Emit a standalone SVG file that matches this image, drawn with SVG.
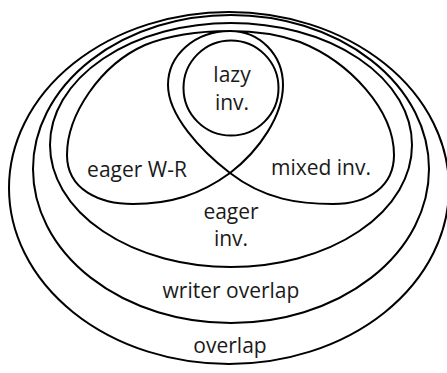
<svg xmlns="http://www.w3.org/2000/svg" width="447" height="373" viewBox="0 0 447 373">
  <style>
    .ring { fill: none; stroke: #000; stroke-width: 2; }
    .lbl { font-family: "Open Sans", "Liberation Sans", Arial, sans-serif; font-size: 21px; fill: #1a1a1a; text-anchor: middle; }
  </style>
  <rect width="447" height="373" fill="#fff"/>

  <g id="overlap">
    <ellipse class="ring" cx="229" cy="188" rx="220" ry="176"/>
    <text class="lbl" x="230" y="353">overlap</text>
  </g>

  <g id="writer-overlap">
    <ellipse class="ring" cx="231" cy="169" rx="198" ry="154"/>
    <text class="lbl" x="231" y="298">writer overlap</text>
  </g>

  <g id="eager-inv">
    <ellipse class="ring" cx="231" cy="145" rx="181" ry="122"/>
    <text class="lbl" x="231" y="219">eager</text>
    <text class="lbl" x="231" y="246">inv.</text>
  </g>

  <!-- single self-crossing curve: two side lobes plus the inner teardrop -->
  <g id="lobes">
    <path class="ring" d="M 230,173
      C 265,200 300,204 333,204
      C 370,204 394,185 394,155
      C 394,110 350,62 300,42
      C 275,33 250,31 230,31
      C 200,31 170,35 145,45
      C 100,65 67,115 67,155
      C 67,190 100,204 133,204
      C 170,204 200,195 230,173
      C 260,150 283,115 283,85
      C 283,55 260,31 230,31
      C 195,31 168,55 168,85
      C 168,115 200,150 230,173 Z"/>
  </g>

  <g id="eager-w-r">
    <text class="lbl" x="137" y="177">eager W-R</text>
  </g>

  <g id="mixed-inv">
    <text class="lbl" x="321" y="175">mixed inv.</text>
  </g>

  <g id="lazy-inv">
    <circle class="ring" cx="231" cy="88" r="47.5"/>
    <text class="lbl" x="232" y="82">lazy</text>
    <text class="lbl" x="232" y="110">inv.</text>
  </g>
</svg>
